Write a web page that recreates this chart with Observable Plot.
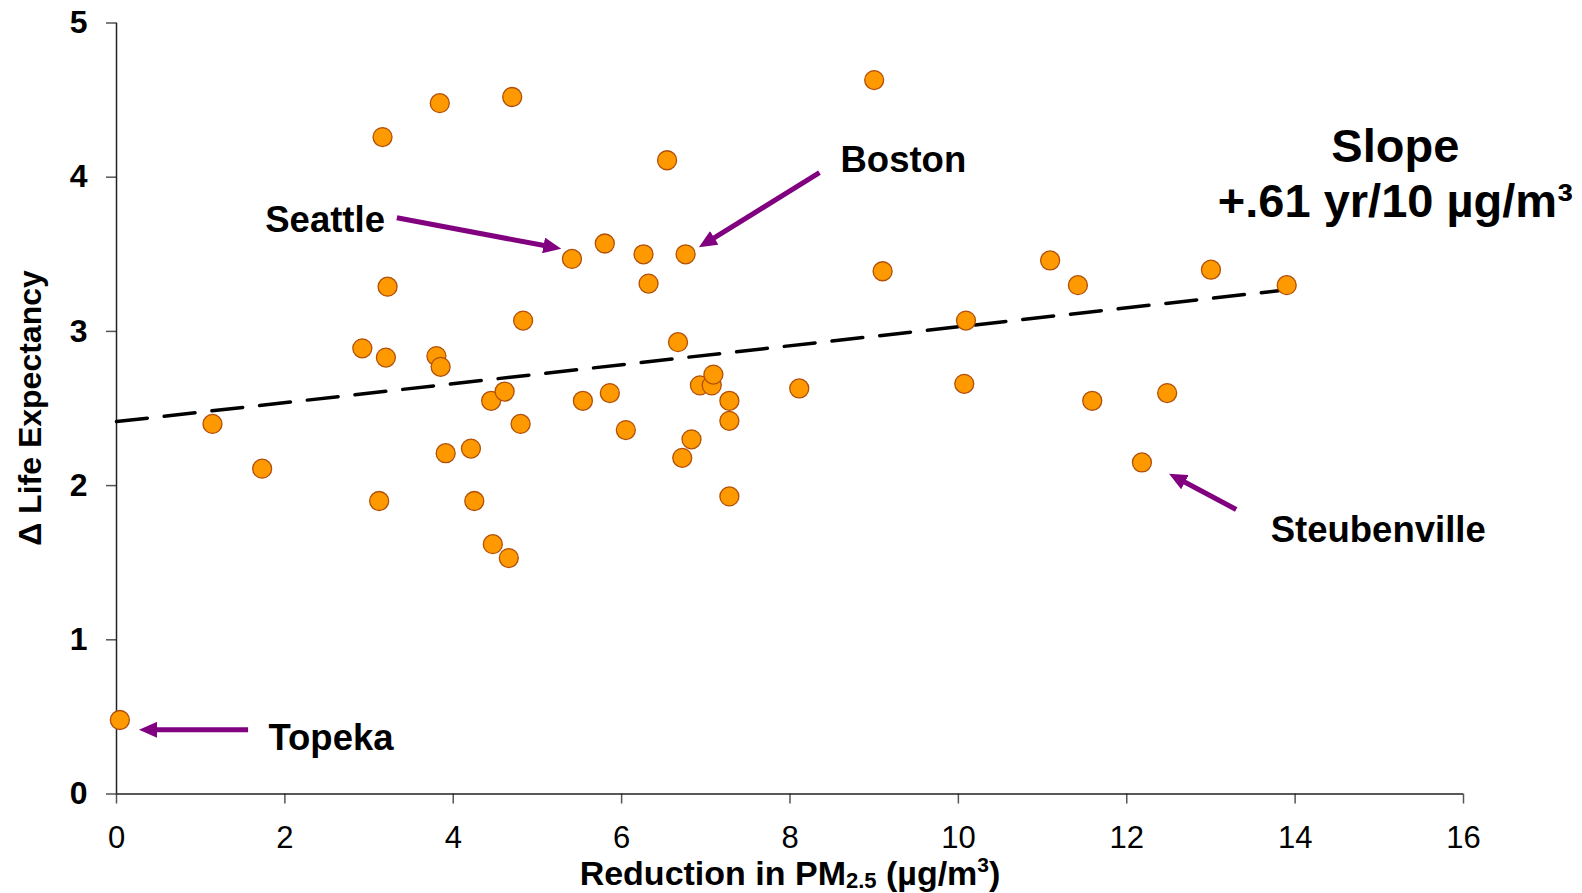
<!DOCTYPE html>
<html>
<head>
<meta charset="utf-8">
<script src="https://cdn.jsdelivr.net/npm/d3@7"></script>
<script src="https://cdn.jsdelivr.net/npm/@observablehq/plot@0.6"></script>
<style>
  html, body { margin: 0; padding: 0; background: #fff; }
  #chart svg { font-family: "Liberation Sans", Arial, sans-serif; display: block; }
</style>
</head>
<body>
<div id="chart"></div>
<script>
// ---- Data ----
const xTicks = [0, 2, 4, 6, 8, 10, 12, 14, 16];
const yTicks = [0, 1, 2, 3, 4, 5];

// Reduction in PM2.5 (µg/m3) per city
const pmReduction = [
  0.04, 1.14, 1.73, 2.92, 3.16, 3.12, 3.20, 3.22, 3.80, 3.85,
  3.84, 3.91, 4.21, 4.25, 4.45, 4.47, 4.61, 4.66, 4.70, 4.80,
  4.83, 5.41, 5.54, 5.80, 5.86, 6.05, 6.26, 6.32, 6.54, 6.67,
  6.72, 6.76, 6.83, 6.93, 7.07, 7.09, 7.28, 7.28, 7.28, 8.11,
  9.00, 9.10, 10.07, 10.09, 11.09, 11.42, 11.59, 12.18, 12.48, 13.00,
  13.90
];
// Change in life expectancy (years) per city
const lifeExpGain = [
  0.48, 2.40, 2.11, 2.89, 4.26, 1.90, 2.83, 3.29, 2.84, 2.77,
  4.48, 2.21, 2.24, 1.90, 2.55, 1.62, 2.61, 1.53, 4.52, 2.40,
  3.07, 3.47, 2.55, 3.57, 2.60, 2.36, 3.50, 3.31, 4.11, 2.93,
  2.18, 3.50, 2.30, 2.65, 2.65, 2.72, 2.55, 2.42, 1.93, 2.63,
  4.63, 3.39, 2.66, 3.07, 3.46, 3.30, 2.55, 2.15, 2.60, 3.40,
  3.30
];

// Fitted trend line
const trendIntercept = 2.415;
const trendSlope = 0.0615;
const trendX = [0, 13.8];

// City annotations
const labelNames = ["Seattle", "Boston", "Topeka", "Steubenville"];
const labelX = [1.767, 8.60, 1.805, 13.71];
const labelY = [3.719, 4.110, 0.361, 1.709];
const arrowX1 = [3.33, 8.35, 1.563, 13.30];
const arrowY1 = [3.737, 4.029, 0.416, 1.845];
const arrowX2 = [5.096, 7.080, 0.457, 12.67];
const arrowY2 = [3.555, 3.600, 0.416, 2.028];

// Slope annotation
const slopeLines = ["Slope", "+.61 yr/10 µg/m³"];
const slopeX = [15.19, 15.19];
const slopeY = [4.195, 3.838];

// ---- Build tables ----
const points = pmReduction.map((x, i) => ({x, y: lifeExpGain[i]}));
const trend = trendX.map(x => ({x, y: trendIntercept + trendSlope * x}));
const labels = labelNames.map((t, i) => ({t, x: labelX[i], y: labelY[i]}));
const arrows = labelNames.map((t, i) => ({x1: arrowX1[i], y1: arrowY1[i], x2: arrowX2[i], y2: arrowY2[i]}));
const slope = slopeLines.map((t, i) => ({t, x: slopeX[i], y: slopeY[i]}));

const plot = Plot.plot({
  width: 1582,
  height: 893,
  marginLeft: 116,
  marginRight: 119,
  marginTop: 22.5,
  marginBottom: 99.5,
  style: {fontFamily: "'Liberation Sans', Arial, sans-serif", background: "#fff", overflow: "visible"},
  x: {domain: [0, 16]},
  y: {domain: [0, 5]},
  marks: [
    Plot.axisX({ticks: xTicks, tickSize: 10, tickPadding: 22, fontSize: 31, label: null, tickFormat: d => String(d)}),
    Plot.axisY({ticks: yTicks, tickSize: 10, tickPadding: 19, fontSize: 32, fontWeight: "bold", label: null, tickFormat: d => String(d)}),
    Plot.ruleY([0], {stroke: "#222", strokeWidth: 1.5}),
    Plot.ruleX([0], {stroke: "#222", strokeWidth: 1.5}),
    Plot.line(trend, {x: "x", y: "y", stroke: "#000", strokeWidth: 3.5, strokeDasharray: "31,17"}),
    Plot.dot(points, {x: "x", y: "y", r: 9.5, fill: "#ff9900", stroke: "#b0500a", strokeWidth: 1.3}),
    Plot.link(arrows, {x1: "x1", y1: "y1", x2: "x2", y2: "y2", stroke: "#800080", strokeWidth: 5}),
    Plot.text(labels, {x: "x", y: "y", text: "t", textAnchor: "start", fontSize: 36.5, fontWeight: "bold", fill: "#000"}),
    Plot.text(slope, {x: "x", y: "y", text: "t", textAnchor: "middle", fontSize: 47, fontWeight: "bold", fill: "#000"})
  ]
});

const svg = d3.select(plot);

// tick styling
svg.selectAll('g[aria-label="y-axis tick label"]').attr("font-weight", "bold");
svg.selectAll('g[aria-label="x-axis tick"], g[aria-label="y-axis tick"]').attr("stroke", "#555").attr("stroke-width", 1.5);

// filled arrow heads
const defs = svg.insert("defs", ":first-child");
defs.append("marker")
  .attr("id", "ahead")
  .attr("markerUnits", "userSpaceOnUse")
  .attr("markerWidth", 18)
  .attr("markerHeight", 16)
  .attr("viewBox", "0 -8 18 16")
  .attr("refX", 2)
  .attr("refY", 0)
  .attr("orient", "auto")
  .append("path")
  .attr("d", "M0,-8L18,0L0,8Z")
  .attr("fill", "#800080");
svg.selectAll('g[aria-label="link"] path').attr("marker-end", "url(#ahead)");

// X axis title with subscript / superscript
const xt = svg.append("text")
  .attr("x", 790).attr("y", 885)
  .attr("text-anchor", "middle")
  .attr("font-size", 34).attr("font-weight", "bold").attr("fill", "#000");
xt.append("tspan").text("Reduction in PM");
xt.append("tspan").attr("font-size", 22).attr("dy", 3).text("2.5");
xt.append("tspan").attr("dy", -3).text(" (µg/m");
xt.append("tspan").attr("font-size", 21).attr("dy", -13).text("3");
xt.append("tspan").attr("dy", 13).text(")");

// Y axis title
svg.append("text")
  .attr("transform", "translate(41,408) rotate(-90)")
  .attr("text-anchor", "middle")
  .attr("font-size", 32).attr("font-weight", "bold").attr("fill", "#000")
  .text("Δ Life Expectancy");

document.getElementById("chart").appendChild(plot);
</script>
</body>
</html>
